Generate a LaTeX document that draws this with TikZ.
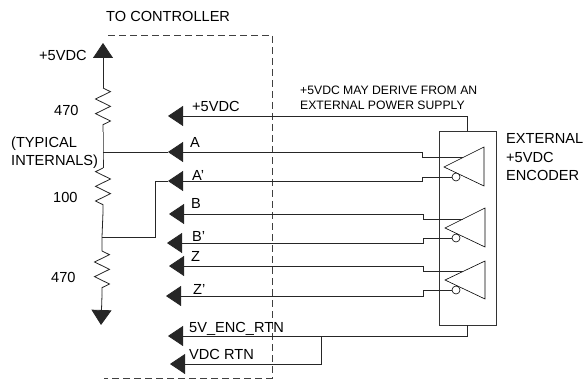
\documentclass[tikz,border=0pt]{standalone}
\usepackage{fontspec}
\setmainfont{Liberation Sans}
\usetikzlibrary{arrows.meta,decorations.pathmorphing}
\tikzset{
    wire/.style = {black!85, line width=0.8pt},
    sigwire/.style = {wire, -{Triangle[length=15pt,width=20pt]}},
    resistor/.style = {wire, decorate, decoration={zigzag, segment length=14.67pt, amplitude=7.5pt}},
    gate/.style = {black, line width=0.6pt},
    bubble/.style = {circle, draw=black, fill=white, line width=0.6pt, inner sep=0pt, minimum size=8pt},
    bigtext/.style = {anchor=base west, inner sep=0pt, font=\fontsize{14.6}{15}\selectfont},
    smalltext/.style = {anchor=base west, inner sep=0pt, font=\fontsize{12.2}{13}\selectfont}
}
\begin{document}
\begin{tikzpicture}[x=1pt, y=-1pt]
    \useasboundingbox (0,0) rectangle (585,379);
    % controller boundary
    \draw[black!75, line width=0.8pt, dashed, dash pattern=on 7pt off 4pt] (108,35) -- (272,35) -- (272,378) -- (104,378);

    % resistor chain
    \coordinate (top) at (103,43);
    \coordinate (r1a) at (103,88);
    \coordinate (r1b) at (103,132);
    \coordinate (tapa) at (103,152);
    \coordinate (r2a) at (103,168);
    \coordinate (r2b) at (103,212);
    \coordinate (tapb) at (102,237);
    \coordinate (r3a) at (102,251);
    \coordinate (r3b) at (102,295);
    \coordinate (gnd) at (101,325);
    \draw[sigwire] (r1a) -- (top);
    \draw[resistor] (r1a) -- (r1b);
    \draw[wire] (r1b) -- (tapa) -- (r2a);
    \draw[resistor, decoration={mirror}] (r2a) -- (r2b);
    \draw[wire] (r2b) -- (tapb) -- (r3a);
    \draw[resistor] (r3a) -- (r3b);
    \draw[sigwire] (r3b) -- (gnd);

    % encoder and its gates
    \node[draw=black!80, line width=0.8pt, minimum width=57pt, minimum height=194pt, inner sep=0pt] (encoder) at (467.5,228) {};
    \draw[gate] (484,147) -- (484,186) -- (444,167) -- cycle;
    \draw[gate] (485,208) -- (485,247) -- (445,228) -- cycle;
    \draw[gate] (485,261) -- (485,299) -- (445,280) -- cycle;
    \node[bubble] (nota) at (456,177) {};
    \node[bubble] (notb) at (456,238) {};
    \node[bubble] (notz) at (456,290) {};
    \coordinate (ina) at (463,157);
    \coordinate (inb) at (463,219);
    \coordinate (inz) at (463,271);

    % controller inputs
    \coordinate (tipv) at (168,116);
    \coordinate (tipa) at (168,152);
    \coordinate (tipan) at (168,181);
    \coordinate (tipb) at (169,214);
    \coordinate (tipbn) at (167,243);
    \coordinate (tipz) at (169,266);
    \coordinate (tipzn) at (166,296);
    \coordinate (tipenc) at (168,336);
    \coordinate (tiprtn) at (170,364);

    \draw[sigwire] (encoder.north) |- (tipv);
    \draw[sigwire] (ina) -- ++(-41,0) |- (tipa);
    \draw[sigwire] (nota) -- ++(-34,0) |- (tipan);
    \draw[sigwire] (inb) -- ++(-40,0) |- (tipb);
    \draw[sigwire] (notb) -- ++(-33,0) |- (tipbn);
    \draw[sigwire] (inz) -- ++(-40,0) |- (tipz);
    \draw[sigwire] (notz) -- ++(-33,0) |- (tipzn);
    \draw[sigwire] (encoder.south) |- (tipenc);
    \draw[sigwire] (321,336) |- (tiprtn);
    \draw[wire] (tapa) -- (tipa);
    \draw[wire] (tapb) -| (155,181) -- (tipan);

    % labels
    \node[bigtext] (lblctrl) at (106,22) {TO CONTROLLER};
    \node[bigtext] (lblsup) at (39,61) {+5VDC};
    \node[bigtext] (lblra) at (54,116) {470};
    \node[bigtext] (lbltyp) at (11,148) {(TYPICAL};
    \node[bigtext] (lblint) at (11,166) {INTERNALS)};
    \node[bigtext] (lblrb) at (53,202) {100};
    \node[bigtext] (lblrc) at (51,282) {470};
    \node[bigtext] (lblv) at (192,112) {+5VDC};
    \node[bigtext] (lbla) at (190,148) {A};
    \node[bigtext] (lblan) at (192,181) {A'};
    \node[bigtext] (lblb) at (191,208) {B};
    \node[bigtext] (lblbn) at (192,241) {B'};
    \node[bigtext] (lblz) at (191,261) {Z};
    \node[bigtext] (lblzn) at (193,294) {Z'};
    \node[bigtext] (lblenc) at (189,332) {5V\_ENC\_RTN};
    \node[bigtext] (lblrtn) at (189,359) {VDC RTN};
    \node[smalltext] (lblnotea) at (300,95) {+5VDC MAY DERIVE FROM AN};
    \node[smalltext] (lblnoteb) at (300,110) {EXTERNAL POWER SUPPLY};
    \node[bigtext] (lblexta) at (506,144) {EXTERNAL};
    \node[bigtext] (lblextb) at (506,163) {+5VDC};
    \node[bigtext] (lblextc) at (506,181) {ENCODER};
\end{tikzpicture}
\end{document}
